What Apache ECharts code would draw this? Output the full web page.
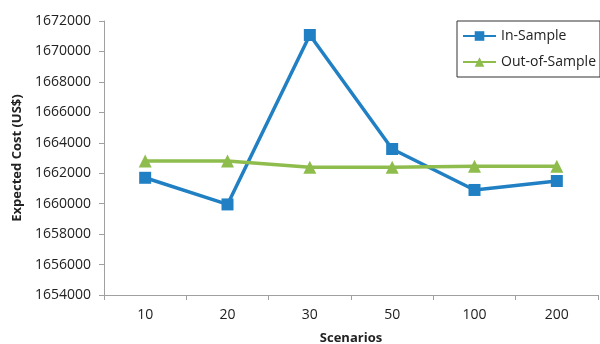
<!DOCTYPE html>
<html><head><meta charset="utf-8">
<script src="https://cdn.jsdelivr.net/npm/echarts@6/dist/echarts.min.js"></script>
<style>html,body{margin:0;padding:0;background:#fff}#c{width:600px;height:344px}</style>
</head><body><div id="c"></div>
<script>
var categories = ['10','20','30','50','100','200'];
var inSample = [1661700, 1659950, 1671080, 1663590, 1660900, 1661490];
var outSample = [1662800, 1662800, 1662400, 1662400, 1662450, 1662450];
var yMin = 1654000, yMax = 1672000, yStep = 2000;

var font = 'Open Sans';
var chart = echarts.init(document.getElementById('c'));
chart.setOption({
  animation: false,
  grid: {left: 104, right: 2, top: 21, bottom: 49, containLabel: false, outerBoundsMode: 'none'},
  legend: {
    right: 0, top: 21, orient: 'vertical',
    itemWidth: 33, itemHeight: 12, itemGap: 12,
    padding: [8, 4, 8, 5],
    borderColor: '#333', borderWidth: 1,
    backgroundColor: '#fff',
    textStyle: {fontFamily: font, fontSize: 14, color: '#222'},
    data: [{name: 'In-Sample'}, {name: 'Out-of-Sample'}]
  },
  xAxis: {
    type: 'category', data: categories, boundaryGap: true,
    name: 'Scenarios', nameLocation: 'middle', nameGap: 37,
    nameTextStyle: {fontFamily: font, fontSize: 13, fontWeight: 'bold', color: '#222'},
    axisLine: {lineStyle: {color: '#a0a0a0'}},
    axisTick: {show: true, length: 5, lineStyle: {color: '#a0a0a0'}},
    axisLabel: {fontFamily: font, fontSize: 14, color: '#222', margin: 13}
  },
  yAxis: {
    type: 'value', min: yMin, max: yMax, interval: yStep,
    name: 'Expected Cost (US$)', nameLocation: 'middle', nameGap: 80, nameRotate: 90,
    nameTextStyle: {fontFamily: font, fontSize: 13, fontWeight: 'bold', color: '#222'},
    axisLine: {show: true, lineStyle: {color: '#a0a0a0'}},
    axisTick: {show: true, length: 5, lineStyle: {color: '#a0a0a0'}},
    splitLine: {show: false},
    axisLabel: {fontFamily: font, fontSize: 14, color: '#222', margin: 13,
      formatter: function (v) { return String(v); }}
  },
  series: [
    {name: 'In-Sample', type: 'line', data: inSample,
     symbol: 'rect', symbolSize: 12,
     lineStyle: {color: '#2180C3', width: 3.5},
     itemStyle: {color: '#2180C3'}},
    {name: 'Out-of-Sample', type: 'line', data: outSample,
     symbol: 'triangle', symbolSize: 13,
     lineStyle: {color: '#8FBD4D', width: 3.5},
     itemStyle: {color: '#8FBD4D'}}
  ]
});
</script></body></html>
